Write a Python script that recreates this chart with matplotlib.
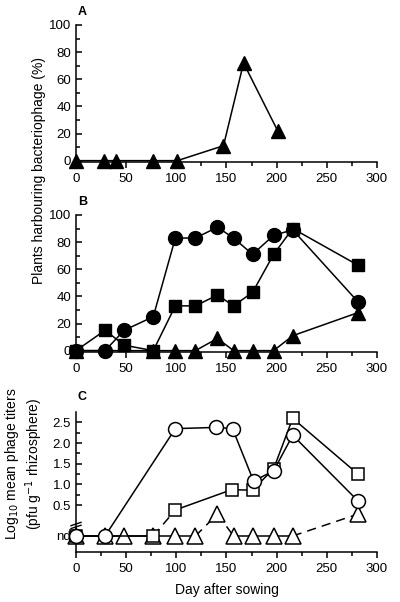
import numpy as np
import matplotlib
matplotlib.use("Agg")
import matplotlib.pyplot as plt
from matplotlib.ticker import MultipleLocator, FixedLocator

plt.rcParams['font.family'] = ['Liberation Sans', 'DejaVu Sans']

# ---------------- data ----------------
# Panel A: triangles
a_days = [0, 28, 40, 77, 101, 147, 167, 201]
a_pct = [0, 0, 0, 0, 0, 11, 72, 22]

# Panel B
b_circ_days = [0, 29, 48, 77, 99, 119, 141, 157, 176, 197, 216, 281]
b_circ_pct = [0, 0, 15, 25, 83, 83, 91, 83, 71, 85, 89, 36]
b_sq_days = [0, 29, 48, 77, 99, 119, 141, 157, 176, 197, 216, 281]
b_sq_pct = [0, 15, 4, 0, 33, 33, 41, 33, 43, 71, 90, 63]
b_tri_days = [0, 77, 99, 119, 141, 157, 176, 197, 216, 281]
b_tri_pct = [0, 0, 0, 0, 9, 0, 0, 0, 11, 28]

# Panel C (None = not detected, "nd")
c_circ_days = [0, 29, 99, 140, 156, 177, 197, 216, 281]
c_circ_log = [None, None, 2.35, 2.38, 2.35, 1.08, 1.33, 2.19, 0.60]
c_sq_days = [0, 77, 99, 155, 176, 197, 216, 281]
c_sq_log = [None, None, 0.38, 0.87, 0.86, 1.38, 2.60, 1.25]
c_tri_days = [0, 29, 48, 77, 99, 119, 141, 157, 176, 197, 216, 281]
c_tri_log = [None, None, None, None, None, None, 0.28, None, None, None, None, 0.28]

ND_POS = -0.25

fig = plt.figure(figsize=(4.0, 6.02), dpi=100)

LW = 1.1
SP_LW = 1.1


def style_axes(ax):
    for s in ['top', 'right']:
        ax.spines[s].set_visible(False)
    for s in ['left', 'bottom']:
        ax.spines[s].set_linewidth(SP_LW)
    ax.tick_params(axis='y', which='both', direction='in', labelsize=9.5, width=SP_LW)
    ax.tick_params(axis='x', which='both', direction='out', labelsize=9.5, width=SP_LW)
    ax.tick_params(which='major', length=4.5)
    ax.tick_params(which='minor', length=3)
    ax.set_xlim(0, 300)
    ax.xaxis.set_major_locator(MultipleLocator(50))
    ax.xaxis.set_minor_locator(MultipleLocator(25))


# ---------------- Panel A ----------------
axA = fig.add_axes([0.19, 0.7309, 0.7525, 0.2276])
style_axes(axA)
axA.set_ylim(-1, 100)
axA.yaxis.set_major_locator(MultipleLocator(20))
axA.yaxis.set_minor_locator(MultipleLocator(10))
axA.plot(a_days, a_pct, color='black', lw=LW, marker='^', ms=10.5,
         mfc='black', mec='black', clip_on=False, zorder=3)

# ---------------- Panel B ----------------
axB = fig.add_axes([0.19, 0.4153, 0.7525, 0.2276])
style_axes(axB)
axB.set_ylim(-1, 100)
axB.yaxis.set_major_locator(MultipleLocator(20))
axB.yaxis.set_minor_locator(MultipleLocator(10))
axB.plot(b_tri_days, b_tri_pct, color='black', lw=LW, marker='^', ms=10.5,
         clip_on=False, zorder=3)
axB.plot(b_sq_days, b_sq_pct, color='black', lw=LW, marker='s', ms=9,
         clip_on=False, zorder=4)
axB.plot(b_circ_days, b_circ_pct, color='black', lw=LW, marker='o', ms=10,
         clip_on=False, zorder=5)

fig.text(0.098, 0.716, 'Plants harbouring bacteriophage (%)', rotation=90,
         ha='center', va='center', fontsize=10)

# ---------------- Panel C ----------------
axC = fig.add_axes([0.19, 0.0836, 0.7525, 0.2325])
style_axes(axC)
axC.set_ylim(-0.63, 2.76)
axC.yaxis.set_major_locator(FixedLocator([ND_POS, 0.5, 1.0, 1.5, 2.0, 2.5]))
axC.yaxis.set_minor_locator(FixedLocator([0.75, 1.25, 1.75, 2.25]))
axC.set_yticklabels(['nd', '0.5', '1.0', '1.5', '2.0', '2.5'])


def plot_nd_series(ax, days, vals, marker, ms, z, dash_nd=True):
    y = [ND_POS if v is None else v for v in vals]
    for i in range(len(days) - 1):
        nd_change = (vals[i] is None) != (vals[i + 1] is None)
        ls = (0, (6, 4)) if (dash_nd and nd_change) else '-'
        ax.plot(days[i:i + 2], y[i:i + 2], color='black', lw=LW, ls=ls,
                clip_on=False, zorder=z)
    ax.plot(days, y, ls='none', marker=marker, ms=ms, mfc='white',
            mec='black', mew=1.1, clip_on=False, zorder=z + 0.5)


plot_nd_series(axC, c_tri_days, c_tri_log, '^', 11, 3)
plot_nd_series(axC, c_sq_days, c_sq_log, 's', 9, 4)
plot_nd_series(axC, c_circ_days, c_circ_log, 'o', 10, 5, dash_nd=False)

# axis break marks on the y axis
for dy in (-0.03, 0.04):
    axC.plot([-5, 5], [dy - 0.04, dy + 0.04], color='black', lw=1.0,
             clip_on=False, zorder=6)

axC.set_xlabel('Day after sowing', fontsize=10, labelpad=6)
fig.text(0.06, 0.229, 'Log$_{10}$ mean phage titers\n(pfu g$^{-1}$ rhizosphere)',
         rotation=90, ha='center', va='center', fontsize=10,
         multialignment='center', linespacing=1.2)

# panel letters
fig.text(0.195, 0.980, 'A', fontsize=9, fontweight='bold', ha='left', va='center')
fig.text(0.195, 0.665, 'B', fontsize=9, fontweight='bold', ha='left', va='center')
fig.text(0.195, 0.341, 'C', fontsize=9, fontweight='bold', ha='left', va='center')

fig.savefig('out.png', dpi=100)
